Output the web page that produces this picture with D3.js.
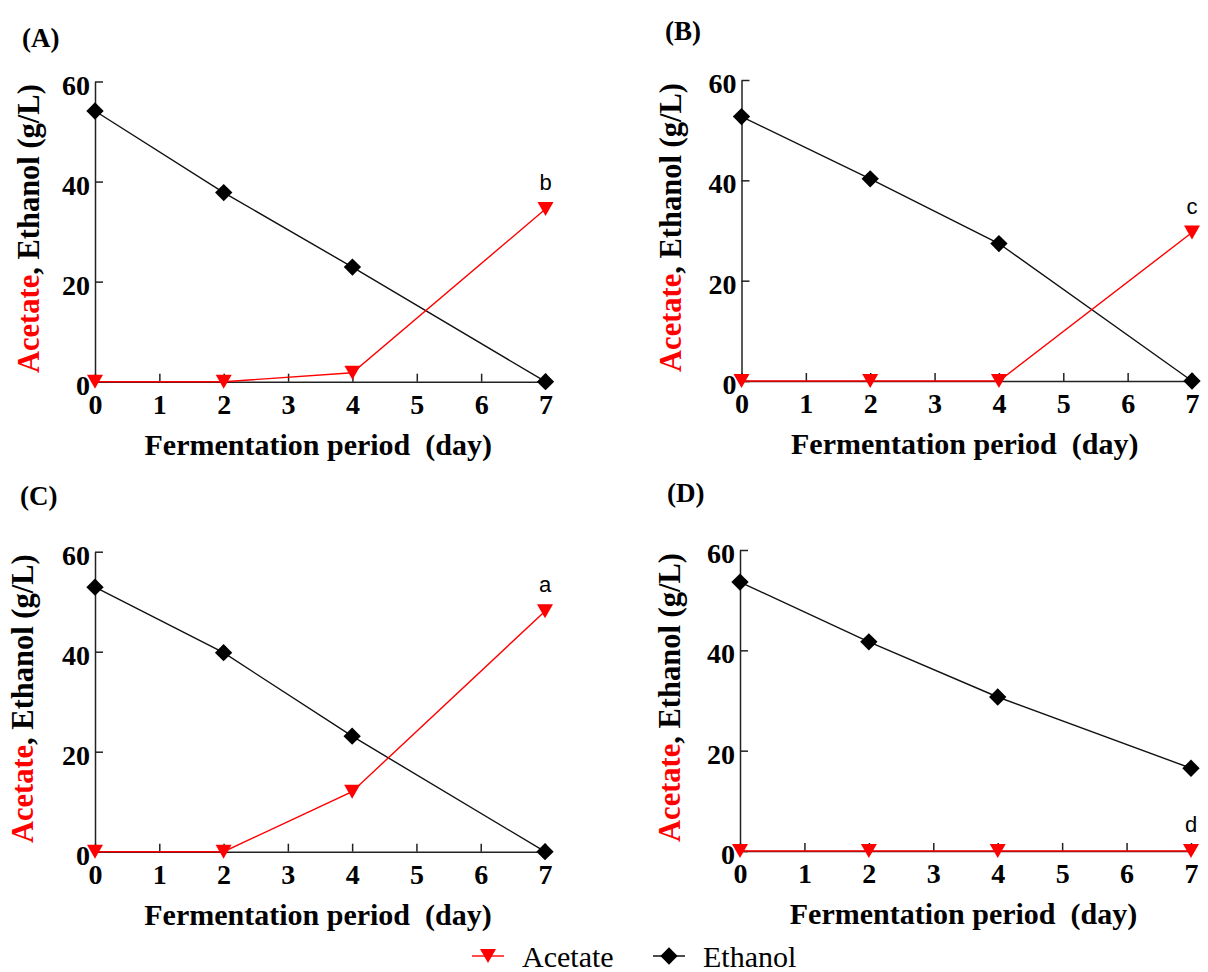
<!DOCTYPE html>
<html>
<head>
<meta charset="utf-8">
<script src="https://cdn.jsdelivr.net/npm/d3@7"></script>
<style>
	body { margin: 0; background: #fff; }
	svg { display: block; }
</style>
</head>
<body>
<svg id="viz" width="1208" height="972"></svg>
<script>
// values
var days = [0, 2, 4, 7];
var xTicks = [0, 1, 2, 3, 4, 5, 6, 7];
var yTicks = [0, 20, 40, 60];
var panelLabels = ["(A)", "(B)", "(C)", "(D)"];
var sigLetters = ["b", "c", "a", "d"];

var acetateA = [0, 0, 1.8, 34.5];
var ethanolA = [54.1, 37.8, 22.9, 0];
var acetateB = [0, 0, 0, 29.6];
var ethanolB = [52.7, 40.3, 27.4, 0];
var acetateC = [0, 0, 12.0, 48.1];
var ethanolC = [52.9, 39.8, 23.1, 0];
var acetateD = [0, 0, 0, 0];
var ethanolD = [53.6, 41.7, 30.7, 16.5];

var acetate = [acetateA, acetateB, acetateC, acetateD];
var ethanol = [ethanolA, ethanolB, ethanolC, ethanolD];

// panel placement
var frames = [
	{x0: 95, x1: 545.5, yTop: 81.5, yBot: 381.7, tx: 22, ty: 47, titleOff: 56},
	{x0: 741.5, x1: 1192, yTop: 80, yBot: 381, tx: 665, ty: 40, titleOff: 61},
	{x0: 95, x1: 545, yTop: 551.7, yBot: 851.7, tx: 20, ty: 505, titleOff: 62},
	{x0: 740, x1: 1191, yTop: 550, yBot: 851, tx: 667, ty: 502, titleOff: 60}
];

var serif = "'Liberation Serif', 'Times New Roman', serif";
var sans = "'Liberation Sans', Arial, sans-serif";
var red = "#ff0000";

var svg = d3.select("#viz");

// downward triangle centred on the point, square turned 45 degrees
var triangle = function () { return "M-8,-7L8,-7L0,7Z"; };
var diamond = d3.symbol().type(d3.symbolSquare).size(150);

frames.forEach(function (f, i) {
	var x = d3.scaleLinear().domain([0, 7]).range([f.x0, f.x1]);
	var y = d3.scaleLinear().domain([0, 60]).range([f.yBot, f.yTop]);
	var g = svg.append("g").attr("class", "panel");

	g.append("text")
		.attr("x", f.tx).attr("y", f.ty)
		.attr("font-family", serif).attr("font-weight", "bold").attr("font-size", 27)
		.text(panelLabels[i]);

	var yAxis = g.append("g")
		.attr("transform", "translate(" + f.x0 + ",0)")
		.call(d3.axisLeft(y).tickValues(yTicks).tickFormat(d3.format("d")).tickSizeInner(-8).tickSizeOuter(0).tickPadding(5));
	var xAxis = g.append("g")
		.attr("transform", "translate(0," + f.yBot + ")")
		.call(d3.axisBottom(x).tickValues(xTicks).tickFormat(d3.format("d")).tickSizeInner(-8).tickSizeOuter(0).tickPadding(12));

	[xAxis, yAxis].forEach(function (a) {
		a.selectAll("path, line").attr("stroke", "#222").attr("stroke-width", 1.5);
		a.selectAll("text")
			.attr("font-family", serif).attr("font-weight", "bold").attr("font-size", 28)
			.attr("fill", "#000");
	});
	yAxis.selectAll("text").attr("dy", "0.45em");

	// axis titles
	g.append("text")
		.attr("x", (f.x0 + f.x1) / 2 - 2).attr("y", f.yBot + 73)
		.attr("text-anchor", "middle")
		.attr("font-family", serif).attr("font-weight", "bold").attr("font-size", 30)
		.style("white-space", "pre")
		.text("Fermentation period  (day)");

	var yt = g.append("text")
		.attr("transform", "translate(" + (f.x0 - f.titleOff) + "," + ((f.yTop + f.yBot) / 2 - 3) + ") rotate(-90)")
		.attr("text-anchor", "middle")
		.attr("font-family", serif).attr("font-weight", "bold").attr("font-size", 30.5);
	yt.append("tspan").attr("fill", red).text("Acetate");
	yt.append("tspan").attr("fill", "#000").text(", Ethanol (g/L)");

	var line = d3.line()
		.x(function (d, j) { return x(days[j]); })
		.y(function (d) { return y(d); });

	g.append("path")
		.attr("d", line(ethanol[i]))
		.attr("fill", "none").attr("stroke", "#111").attr("stroke-width", 1.4);
	g.selectAll("path.eth")
		.data(ethanol[i]).enter().append("path")
		.attr("class", "eth")
		.attr("d", diamond)
		.attr("transform", function (d, j) { return "translate(" + x(days[j]) + "," + y(d) + ") rotate(45)"; })
		.attr("fill", "#000");

	g.append("path")
		.attr("d", line(acetate[i]))
		.attr("fill", "none").attr("stroke", red).attr("stroke-width", 1.4);
	g.selectAll("path.ace")
		.data(acetate[i]).enter().append("path")
		.attr("class", "ace")
		.attr("d", triangle)
		.attr("transform", function (d, j) { return "translate(" + x(days[j]) + "," + y(d) + ")"; })
		.attr("fill", red);

	// significance letter above the day 7 acetate point
	g.append("text")
		.attr("x", x(7)).attr("y", y(acetate[i][3]) - 19)
		.attr("text-anchor", "middle")
		.attr("font-family", sans).attr("font-size", 22)
		.text(sigLetters[i]);
});

// legend
var legend = svg.append("g").attr("class", "legend");
var legendItems = [
	{name: "Acetate", color: red, sym: triangle, rot: 0, x: 472},
	{name: "Ethanol", color: "#000", sym: diamond, rot: 45, x: 653}
];
legendItems.forEach(function (it) {
	legend.append("line")
		.attr("x1", it.x).attr("x2", it.x + 32)
		.attr("y1", 956).attr("y2", 956)
		.attr("stroke", it.color).attr("stroke-width", 1.4);
	legend.append("path")
		.attr("d", it.sym)
		.attr("transform", "translate(" + (it.x + 16) + ",956) rotate(" + it.rot + ")")
		.attr("fill", it.color);
	legend.append("text")
		.attr("x", it.x + 50).attr("y", 967)
		.attr("font-family", serif).attr("font-size", 30)
		.text(it.name);
});
</script>
</body>
</html>
